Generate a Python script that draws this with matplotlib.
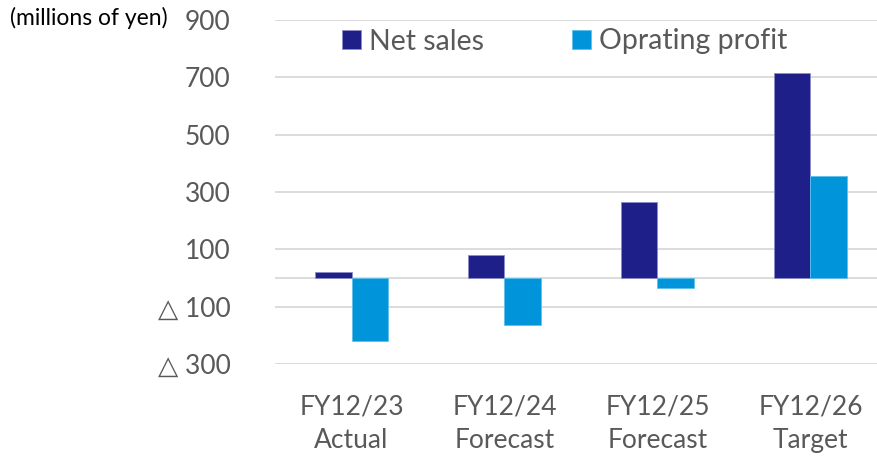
import matplotlib
matplotlib.use("Agg")
import matplotlib.pyplot as plt
import numpy as np

# data (millions of yen)
categories = ["FY12/23\nActual", "FY12/24\nForecast", "FY12/25\nForecast", "FY12/26\nTarget"]
net_sales = [22, 80, 265, 715]
op_profit = [-220, -165, -35, 355]
yticks = [-300, -100, 100, 300, 500, 700, 900]

NAVY = "#1F1F8A"
SKY = "#0095DA"
GREY = "#595959"
GRID = "#D9D9D9"

plt.rcParams["font.family"] = ["Lato", "DejaVu Sans"]


def fmt(v):
    # negatives shown with a triangle, Japanese style
    return f"\u25b3 {abs(v)}" if v < 0 else f"{v}"


fig = plt.figure(figsize=(8.78, 4.59), dpi=100)
ax = fig.add_axes([275 / 878, 1 - 364 / 459, 612 / 878, 344 / 459])

x = np.arange(len(categories))
w = 0.24
ax.bar(x - w / 2, net_sales, w, color=NAVY, edgecolor="#8C8CC8", linewidth=0.6,
       label="Net sales", zorder=3)
ax.bar(x + w / 2, op_profit, w, color=SKY, edgecolor="#5EC0EC", linewidth=0.6,
       label="Oprating profit", zorder=3)

ax.set_xlim(-0.5, len(categories) - 0.5)
ax.set_ylim(-300, 900)
ax.set_yticks(yticks)
ax.set_yticklabels([fmt(v) for v in yticks])
ax.yaxis.grid(True, color=GRID, linewidth=1.3, zorder=0)
ax.axhline(0, color=GRID, linewidth=1.3, zorder=1)

ax.set_xticks(x)
ax.set_xticklabels(categories, linespacing=1.42)

for s in ax.spines.values():
    s.set_visible(False)
ax.tick_params(axis="both", length=0, colors=GREY, labelsize=19)
ax.tick_params(axis="y", pad=32)
ax.tick_params(axis="x", pad=22)

fig.text(10 / 878, 1 - 18 / 459, "(millions of yen)", fontsize=16.5,
         color="black", va="center", ha="left")

leg = ax.legend(loc="center left", bbox_to_anchor=((342 - 275) / 612, (364 - 41.5) / 344),
                ncol=2, frameon=False, fontsize=20.5, borderpad=0, borderaxespad=0,
                handlelength=0.65, handleheight=0.65, handletextpad=0.3,
                columnspacing=3.1)
for t in leg.get_texts():
    t.set_color(GREY)

fig.savefig("out.png", dpi=100)
